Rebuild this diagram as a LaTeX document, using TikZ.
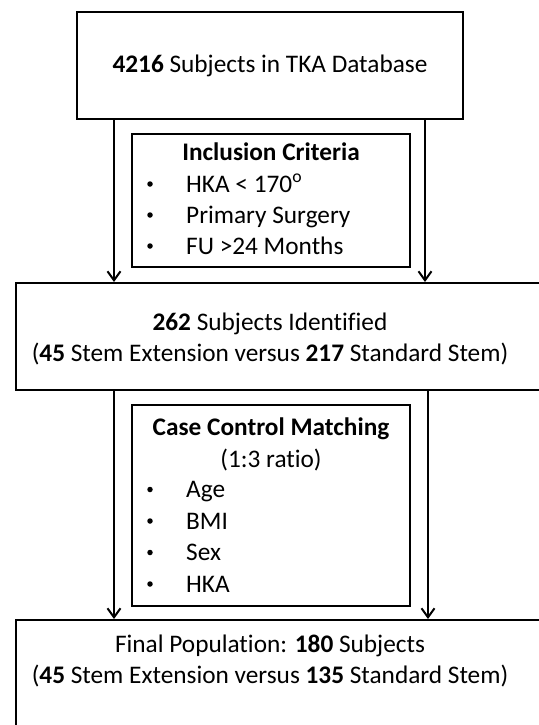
\documentclass[tikz,border=0pt]{standalone}
\usepackage{fontspec}
\setmainfont{Carlito}[Ligatures=NoCommon]
\usetikzlibrary{arrows.meta, positioning}

\begin{document}
\begin{tikzpicture}[x=1pt,y=-1pt,
  box/.style={draw,line width=2pt,inner sep=0pt},
  txt/.style={inner sep=0pt,anchor=base,font=\fontsize{25.3}{30}\selectfont},
  dot/.style={circle,fill,inner sep=0pt,minimum size=5.5pt},
  flow/.style={-{Straight Barb[length=9pt,width=13pt]},line width=2pt}]
  \useasboundingbox (0,0) rectangle (538,725);
  % boxes
  \node[box,minimum width=386pt,minimum height=107pt] (db) at (270,65.5) {};
  \node[box,minimum width=278pt,minimum height=133pt] (incl) at (271,200.5) {};
  \node[box,minimum width=526pt,minimum height=107pt] (ident) at (279,336.5) {};
  \node[box,minimum width=278pt,minimum height=201pt] (match) at (271,505.5) {};
  \node[box,minimum width=526pt,minimum height=130pt] (final) at (279,685) {};
  % texts
  \node[txt] (dbtext) at (270,72.5) {\textbf{4216} Subjects in TKA Database};
  \node[txt] (incltitle) at (271,160) {\textbf{Inclusion Criteria}};
  \node[txt] (identa) at (270,330) {\textbf{262} Subjects Identified};
  \node[txt] (identb) at (270,361) {(\textbf{45} Stem Extension versus \textbf{217} Standard Stem)};
  \node[txt] (matchtitle) at (271,435) {\textbf{Case Control Matching}};
  \node[txt] (ratio) at (271,467) {(1:3 ratio)};
  \node[txt] (finala) at (270,652) {Final Population: \textbf{180} Subjects};
  \node[txt] (finalb) at (270,683) {(\textbf{45} Stem Extension versus \textbf{135} Standard Stem)};
  % lists
  \foreach \t [count=\i] in {HKA < 170\textsuperscript{o}, Primary Surgery, FU >24 Months}{
    \node[dot] (ib\i) at (150,153+31*\i) {};
    \node[txt,anchor=base west] (it\i) at (186,161+31*\i) {\t};
  }
  \foreach \t [count=\i] in {Age, BMI, Sex, HKA}{
    \node[dot] (mb\i) at (150,458+31.5*\i) {};
    \node[txt,anchor=base west] (mt\i) at (186,466+31.5*\i) {\t};
  }
  % arrows
  \coordinate (l1) at (114,0);
  \coordinate (r1) at (425,0);
  \coordinate (r2) at (428,0);
  \draw[flow] (db.south -| l1) -- (ident.north -| l1);
  \draw[flow] (db.south -| r1) -- (ident.north -| r1);
  \draw[flow] (ident.south -| l1) -- (final.north -| l1);
  \draw[flow] (ident.south -| r2) -- (final.north -| r2);
\end{tikzpicture}
\end{document}
